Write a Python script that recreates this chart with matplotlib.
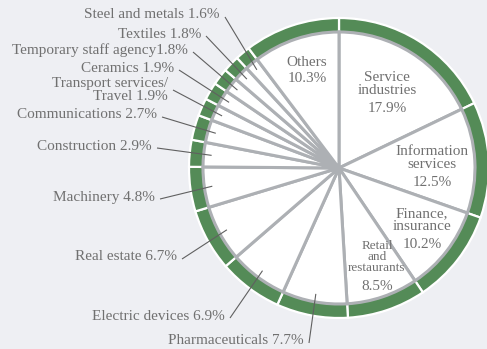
import numpy as np
import matplotlib
matplotlib.use('Agg')
import matplotlib.pyplot as plt

# shares by sector, clockwise from 12 o'clock
sectors = ['Service industries', 'Information services', 'Finance, insurance',
           'Retail and restaurants', 'Pharmaceuticals', 'Electric devices',
           'Real estate', 'Machinery', 'Construction', 'Communications',
           'Transport services/Travel', 'Ceramics', 'Temporary staff agency',
           'Textiles', 'Steel and metals', 'Others']
shares = [17.9, 12.5, 10.2, 8.5, 7.7, 6.9, 6.7, 4.8, 2.9, 2.7, 1.9, 1.9, 1.8, 1.8, 1.6, 10.3]

# labels drawn inside the wedge
inside_names = {0: 'Service\nindustries', 1: 'Information\nservices', 2: 'Finance,\ninsurance',
                3: 'Retail\nand\nrestaurants', 15: 'Others'}
# labels drawn outside with a leader line
outside_text = {4: 'Pharmaceuticals 7.7%', 5: 'Electric devices 6.9%', 6: 'Real estate 6.7%',
                7: 'Machinery 4.8%', 8: 'Construction 2.9%', 9: 'Communications 2.7%',
                10: 'Transport services/\nTravel 1.9%', 11: 'Ceramics 1.9%',
                12: 'Temporary staff agency1.8%', 13: 'Textiles 1.8%', 14: 'Steel and metals 1.6%'}

W, H = 487, 349
BG = '#eeeff3'
GREEN = '#548b57'
EDGE = '#adb0b4'
TXT = '#707070'
FONT = 'Liberation Serif'
FS = 11

fig = plt.figure(figsize=(W/100, H/100), dpi=100, facecolor=BG)
ax = fig.add_axes([0, 0, 1, 1])
ax.set_facecolor(BG)
ax.axis('off')

cx, cy = 339, H-168
R_out, R_in = 150, 136

# green outer ring
ax.pie(shares, radius=R_out, center=(cx, cy), startangle=90, counterclock=False,
       colors=[GREEN]*len(shares),
       wedgeprops=dict(width=R_out-R_in+2, edgecolor='white', linewidth=1.6))
# white wedges
wedges, _ = ax.pie(shares, radius=R_in, center=(cx, cy), startangle=90, counterclock=False,
                   colors=['white']*len(shares),
                   wedgeprops=dict(edgecolor=EDGE, linewidth=2.2))
ax.set_xlim(0, W)
ax.set_ylim(0, H)
ax.set_aspect('auto')

# inside labels: (x, y of name, y of pct) in pixel coords
inside_pos = {0: (387, 84, 109), 1: (432, 158, 183), 2: (422, 220, 245),
              3: (377, 257, 287), 15: (307, 63, 79)}
for i, name in inside_names.items():
    x, yn, yp = inside_pos[i]
    fs = 9.5 if i == 3 else FS
    ls = 0.85 if i == 3 else 1.0
    ax.text(x, H-yn, name, ha='center', va='center', fontsize=fs, color=TXT,
            family=FONT, linespacing=ls)
    ax.text(x, H-yp, f'{shares[i]}%', ha='center', va='center', fontsize=FS,
            color=TXT, family=FONT)

# outside labels: right edge x, center y in pixel coords
outside_pos = {14: (220, 15), 13: (201, 34), 12: (188, 50), 11: (174, 68),
               10: (168, 90), 9: (157, 115), 8: (152, 146), 7: (155, 197),
               6: (177, 257), 5: (225, 316), 4: (304, 341)}
for i, txt in outside_text.items():
    x, y = outside_pos[i]
    ax.text(x, H-y, txt, ha='right', va='center', fontsize=FS, color=TXT,
            family=FONT, linespacing=1.0, multialignment='right')
    w = wedges[i]
    ang = np.deg2rad((w.theta1 + w.theta2) / 2)
    ex, ey = cx + 128*np.cos(ang), cy + 128*np.sin(ang)
    sx, sy = x + 5, H-y-2
    if i == 10:
        sy = H-y
    ax.plot([sx, ex], [sy, ey], color='#606060', lw=0.8, solid_capstyle='butt')

fig.savefig('out.png', dpi=100, facecolor=BG)
